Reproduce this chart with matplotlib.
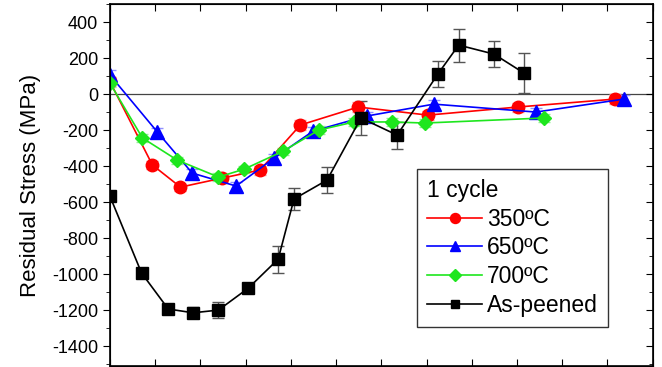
import matplotlib
matplotlib.use("Agg")
import matplotlib.pyplot as plt
from matplotlib.ticker import MultipleLocator

plt.rcParams["font.family"] = ["Liberation Sans", "DejaVu Sans"]
plt.rcParams["axes.unicode_minus"] = False

# depth (um) and residual stress (MPa)
d_350 = [0, 94, 156, 248, 332, 421, 549, 703, 902, 1116]
s_350 = [70, -394, -517, -467, -422, -172, -72, -117, -72, -28]
e_350 = [25, 20, 20, 20, 25, 30, 30, 25, 25, 30]

d_650 = [0, 105, 182, 279, 363, 449, 568, 716, 942, 1136]
s_650 = [106, -211, -439, -511, -356, -206, -122, -56, -100, -28]
e_650 = [30, 20, 20, 25, 25, 25, 25, 25, 25, 25]

d_700 = [0, 72, 149, 240, 297, 383, 462, 540, 624, 696, 959]
s_700 = [61, -244, -367, -461, -417, -317, -200, -155, -155, -161, -133]
e_700 = [20, 20, 20, 20, 20, 20, 20, 20, 20, 20, 20]

d_ap = [0, 70, 129, 184, 240, 306, 372, 407, 480, 555, 635, 725, 771, 849, 915]
s_ap = [-567, -994, -1194, -1215, -1200, -1078, -917, -583, -478, -133, -228, 111, 272, 222, 117]
e_ap = [10, 15, 15, 30, 45, 20, 75, 60, 72, 95, 75, 70, 92, 70, 110]

series = [
    ("350ºC", d_350, s_350, e_350, "#ff0000", "o", "#ff9090", 9),
    ("650ºC", d_650, s_650, e_650, "#0000ff", "^", "#9090ff", 9.5),
    ("700ºC", d_700, s_700, e_700, "#1ee61e", "D", "#90f090", 7.5),
    ("As-peened", d_ap, s_ap, e_ap, "#000000", "s", "#555555", 8),
]

fig = plt.figure(figsize=(6.62, 3.67), dpi=100)
ax = fig.add_axes([0.166, 0.003, 0.820, 0.986])

ax.axhline(0, color="#444444", lw=0.9, zorder=1)
for lab, x, y, e, c, m, ec, ms in series:
    ax.errorbar(x, y, yerr=e, color=c, marker=m, ms=ms, lw=1.2, ecolor=ec,
                elinewidth=1.0, capsize=4, capthick=1.0, label=lab, zorder=3)

ax.set_xlim(0, 1200)
ax.set_ylim(-1510, 500)
ax.xaxis.set_major_locator(MultipleLocator(100))
ax.yaxis.set_major_locator(MultipleLocator(200))
ax.yaxis.set_minor_locator(MultipleLocator(100))
ax.tick_params(axis="y", which="both", direction="out", labelsize=13)
ax.tick_params(axis="y", which="major", length=5)
ax.tick_params(axis="y", which="minor", length=3)
ax.tick_params(axis="x", direction="in", top=True, labelbottom=False, length=5)
for sp in ax.spines.values():
    sp.set_linewidth(1.2)
ax.set_ylabel("Residual Stress (MPa)", fontsize=16, labelpad=8)

# inward ticks on the right side
ax2 = ax.twinx()
ax2.set_ylim(ax.get_ylim())
ax2.yaxis.set_major_locator(MultipleLocator(200))
ax2.yaxis.set_minor_locator(MultipleLocator(100))
ax2.tick_params(axis="y", which="both", direction="in", labelright=False)
ax2.tick_params(axis="y", which="major", length=5)
ax2.tick_params(axis="y", which="minor", length=3)

handles, labels = ax.get_legend_handles_labels()
handles = [h[0] for h in handles]
leg = ax2.legend(handles, labels, title="1 cycle", loc="lower left",
                 bbox_to_anchor=(0.566, 0.107), borderaxespad=0,
                 fontsize=16.5, title_fontsize=16.5,
                 frameon=True, fancybox=False, edgecolor="#333333", framealpha=1,
                 handlelength=2.4, handletextpad=0.2, borderpad=0.45,
                 labelspacing=0.25, alignment="left", markerscale=0.8)
leg.get_frame().set_linewidth(1.0)

fig.savefig("out.png", dpi=100)
